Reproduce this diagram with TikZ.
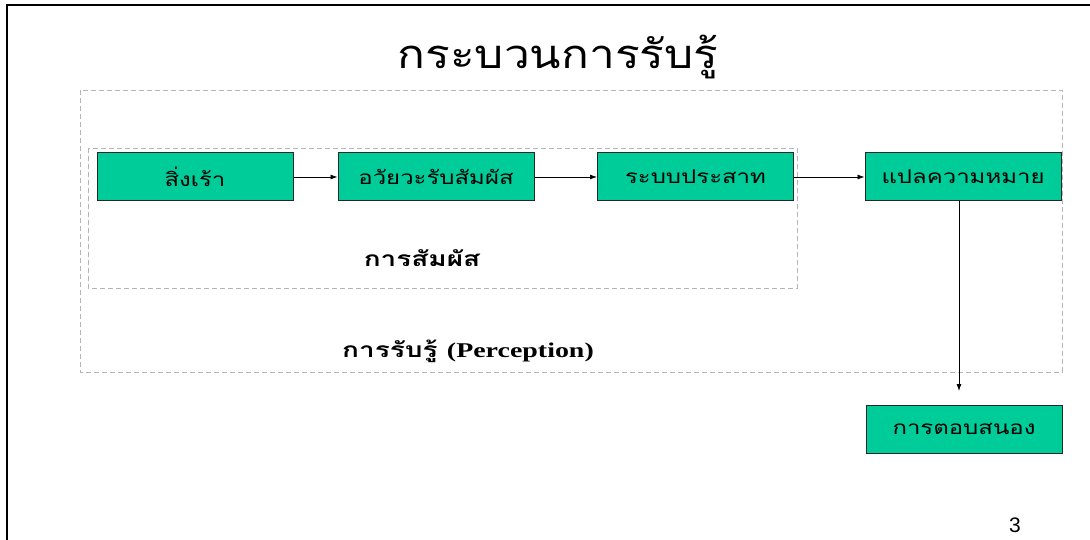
\documentclass[tikz,border=0pt]{standalone}
\usepackage{fontspec}
\setmainfont{Liberation Serif}
\newfontfamily\thaititle[Script=Thai,FakeStretch=1.15]{Loma}
\newfontfamily\thaibox[Script=Thai,FakeStretch=1.26]{Loma}
\newfontfamily\thailbl[Script=Thai,FakeStretch=1.33]{Loma}
\newfontfamily\latinlbl[FakeStretch=1.33]{Liberation Serif}
\usetikzlibrary{arrows.meta}
\definecolor{boxgreen}{HTML}{00CC99}
\definecolor{dashgray}{HTML}{B4B4B4}
\tikzset{
  x=1pt,y=-1pt,
  procbox/.style={draw=black!85,line width=1pt,fill=boxgreen,minimum width=196pt,minimum height=48pt,inner sep=0pt,font=\thaibox\fontsize{19}{22}\selectfont},
  groupbox/.style={draw=dashgray,dashed,dash pattern=on 5pt off 3pt,line width=0.9pt},
  flow/.style={-{Latex[length=7pt,width=5pt]},line width=0.8pt},
  lbl/.style={font=\bfseries\thailbl\fontsize{21}{24}\selectfont}
}
\begin{document}
\begin{tikzpicture}
\useasboundingbox (0,0) rectangle (1090,540);
% slide frame
\draw[line width=1.6pt] (1090,5) -- (7,5) -- (7,540);
% title
\node (title) at (558,57) {\thaititle\fontsize{40}{46}\selectfont กระบวนการรับรู้};
% group boxes
\draw[groupbox] (80,90) rectangle (1062,372);
\draw[groupbox] (88,148) rectangle (797,288);
% process boxes
\node[procbox] (s1) at (195,177) {สิ่งเร้า};
\node[procbox] (s2) at (436,177) {อวัยวะรับสัมผัส};
\node[procbox] (s3) at (695.5,177) {ระบบประสาท};
\node[procbox] (s4) at (963,177) {แปลความหมาย};
\node[procbox] (s5) at (964,429) {การตอบสนอง};
\coordinate (tip) at (959,391);
% connectors
\draw[flow] (s1) -- (s2);
\draw[flow] (s2) -- (s3);
\draw[flow] (s3) -- (s4);
\draw[flow] (s4.south -| tip) -- (tip);
% labels
\node[lbl] (sense) at (422,258) {การสัมผัส};
\node[lbl] (perc) at (468,351) {การรับรู้ {\latinlbl\bfseries (Perception)}};
\node (pageno) at (1015,525) {\fontspec{Liberation Sans}\fontsize{21}{24}\selectfont 3};
\end{tikzpicture}
\end{document}
